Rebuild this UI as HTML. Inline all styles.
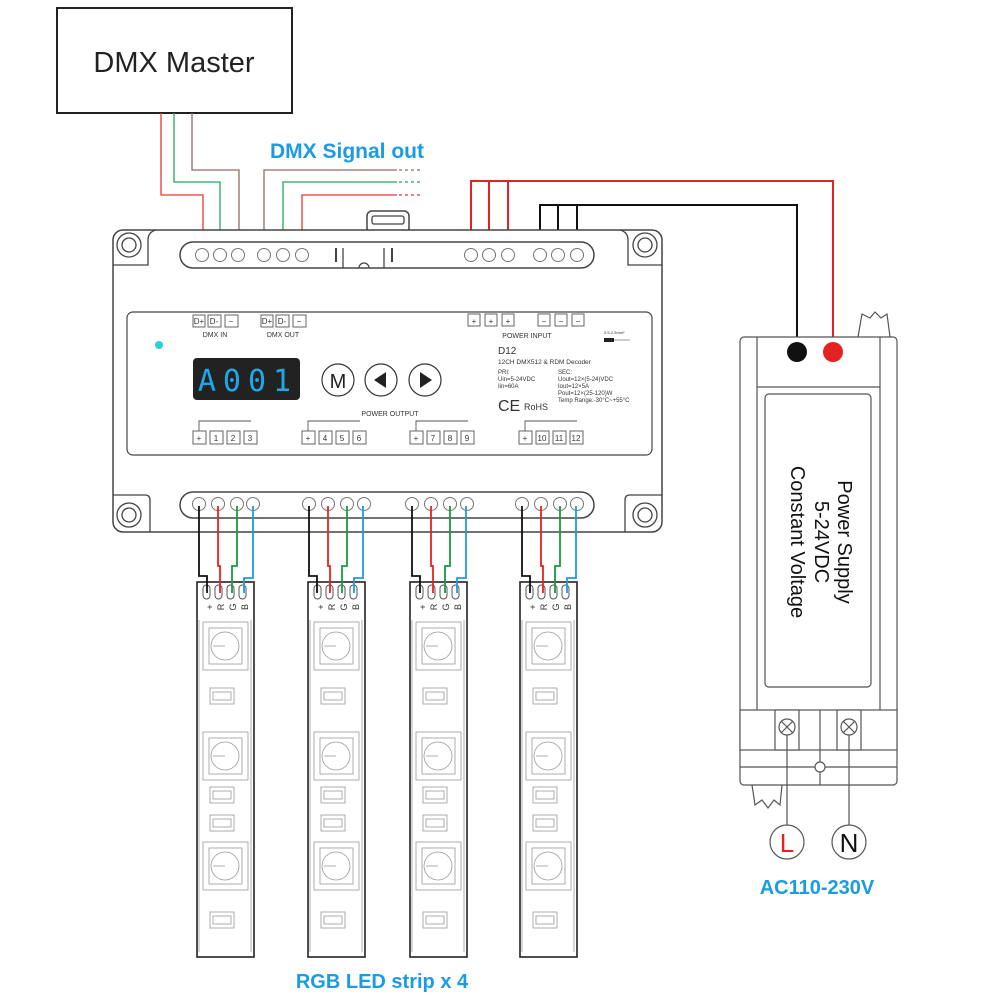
<!DOCTYPE html>
<html><head><meta charset="utf-8"><style>body{margin:0;background:#fff}svg{display:block}</style></head><body>
<svg width="1000" height="1000" viewBox="0 0 1000 1000" xmlns="http://www.w3.org/2000/svg" font-family="Liberation Sans, sans-serif">
<defs>
<g id="strip">
<rect x="0" y="0" width="57" height="375" fill="#fff" stroke="#222" stroke-width="1.6"/>
<g fill="#fff" stroke="#555" stroke-width="1">
<rect x="6" y="3" width="7" height="14" rx="3.5"/><rect x="18" y="3" width="7" height="14" rx="3.5"/><rect x="30" y="3" width="7" height="14" rx="3.5"/><rect x="42" y="3" width="7" height="14" rx="3.5"/>
</g>
<g font-size="9" fill="#333" text-anchor="middle">
<text transform="translate(13,25) rotate(-90)" dy="3">+</text>
<text transform="translate(24,25) rotate(-90)" dy="3">R</text>
<text transform="translate(36,25) rotate(-90)" dy="3">G</text>
<text transform="translate(48,25) rotate(-90)" dy="3">B</text>
</g>
<g fill="none" stroke="#999" stroke-width="0.8">
<line x1="2" y1="38" x2="2" y2="370"/><line x1="54" y1="38" x2="54" y2="370"/>
<rect x="6" y="40" width="45" height="48"/><rect x="12" y="46" width="33" height="36"/><circle cx="28" cy="64" r="14"/>
<rect x="13" y="106" width="24" height="16"/><rect x="16" y="110" width="18" height="8"/>
<rect x="6" y="150" width="45" height="48"/><rect x="12" y="156" width="33" height="36"/><circle cx="28" cy="174" r="14"/>
<rect x="13" y="205" width="24" height="16"/><rect x="16" y="209" width="18" height="8"/>
<rect x="13" y="233" width="24" height="16"/><rect x="16" y="237" width="18" height="8"/>
<rect x="6" y="260" width="45" height="48"/><rect x="12" y="266" width="33" height="36"/><circle cx="28" cy="284" r="14"/>
<rect x="13" y="330" width="24" height="16"/><rect x="16" y="334" width="18" height="8"/>
<line x1="28" y1="64" x2="16" y2="64"/><line x1="28" y1="174" x2="16" y2="174"/><line x1="28" y1="284" x2="16" y2="284"/>
</g>
</g>
</defs>

<rect x="57" y="8" width="235" height="105" fill="#fff" stroke="#222" stroke-width="2"/>
<text x="174" y="72" font-size="29" text-anchor="middle" fill="#222">DMX Master</text>
<text x="347" y="158" font-size="21" font-weight="bold" text-anchor="middle" fill="#1a9be6">DMX Signal out</text>

<g fill="none" stroke-width="1.3">
<polyline points="161,113 161,195 203,195 203,249" stroke="#e53935"/>
<polyline points="174,113 174,182 220,182 220,249" stroke="#26a65b"/>
<polyline points="192,113 192,170 239,170 239,249" stroke="#8d6e63"/>
<polyline points="264,249 264,170 397,170" stroke="#8d6e63"/>
<polyline points="283,249 283,182 397,182" stroke="#26a65b"/>
<polyline points="302,249 302,195 397,195" stroke="#e53935"/>
<line x1="399" y1="170" x2="420" y2="170" stroke="#8d6e63" stroke-dasharray="3,3"/>
<line x1="399" y1="182" x2="420" y2="182" stroke="#26a65b" stroke-dasharray="3,3"/>
<line x1="399" y1="195" x2="420" y2="195" stroke="#e53935" stroke-dasharray="3,3"/>
</g>
<g fill="none" stroke-width="2">
<polyline points="471,249 471,181 833,181 833,350" stroke="#e52222"/>
<line x1="489" y1="181" x2="489" y2="249" stroke="#e52222"/>
<line x1="508" y1="181" x2="508" y2="249" stroke="#e52222"/>
<polyline points="540,249 540,205 797,205 797,350" stroke="#111"/>
<line x1="558" y1="205" x2="558" y2="249" stroke="#111"/>
<line x1="577" y1="205" x2="577" y2="249" stroke="#111"/>
</g>

<g fill="#fff" stroke="#444" stroke-width="1.5">
<rect x="367" y="211" width="42" height="22" rx="5"/>
<rect x="113" y="230" width="549" height="302" rx="10"/>
<rect x="180" y="242" width="414" height="26" rx="13"/>
<rect x="180" y="492" width="414" height="26" rx="13"/>
<rect x="127" y="312" width="525" height="143" rx="6" stroke-width="1.2"/>
</g>
<g fill="none" stroke="#444" stroke-width="1.3">
<path d="M113,265 L148,265 L148,240 Q148,232 156,230"/>
<path d="M662,265 L628,265 L628,240 Q628,232 620,230"/>
<path d="M113,495 L145,495 Q150,495 150,500 L150,532"/>
<path d="M662,495 L630,495 Q625,495 625,500 L625,532"/>
<circle cx="129" cy="245" r="12"/><circle cx="129" cy="245" r="7"/>
<circle cx="645" cy="245" r="12"/><circle cx="645" cy="245" r="7"/>
<circle cx="129" cy="515" r="12"/><circle cx="129" cy="515" r="7"/>
<circle cx="645" cy="515" r="12"/><circle cx="645" cy="515" r="7"/>
<rect x="372" y="216" width="32" height="8" rx="2"/>
<line x1="336" y1="248" x2="336" y2="262" stroke-width="2"/><line x1="343" y1="248" x2="343" y2="268"/>
<line x1="384" y1="248" x2="384" y2="268"/><line x1="392" y1="248" x2="392" y2="262" stroke-width="2"/>
<path d="M359,268 A5,5 0 0 1 369,268"/>
</g>
<g fill="#fff" stroke="#777" stroke-width="1">
<circle cx="202" cy="255" r="6.5"/><circle cx="220" cy="255" r="6.5"/><circle cx="238" cy="255" r="6.5"/><circle cx="264" cy="255" r="6.5"/><circle cx="283" cy="255" r="6.5"/><circle cx="302" cy="255" r="6.5"/>
<circle cx="471" cy="255" r="6.5"/><circle cx="489" cy="255" r="6.5"/><circle cx="508" cy="255" r="6.5"/><circle cx="540" cy="255" r="6.5"/><circle cx="558" cy="255" r="6.5"/><circle cx="577" cy="255" r="6.5"/>
<circle cx="199" cy="504" r="6.5"/><circle cx="218" cy="504" r="6.5"/><circle cx="237" cy="504" r="6.5"/><circle cx="253" cy="504" r="6.5"/>
<circle cx="309" cy="504" r="6.5"/><circle cx="328" cy="504" r="6.5"/><circle cx="347" cy="504" r="6.5"/><circle cx="364" cy="504" r="6.5"/>
<circle cx="412" cy="504" r="6.5"/><circle cx="431" cy="504" r="6.5"/><circle cx="450" cy="504" r="6.5"/><circle cx="467" cy="504" r="6.5"/>
<circle cx="522" cy="504" r="6.5"/><circle cx="541" cy="504" r="6.5"/><circle cx="560" cy="504" r="6.5"/><circle cx="577" cy="504" r="6.5"/>
</g>

<circle cx="159" cy="345" r="4" fill="#2ad0d8"/>
<g fill="#fff" stroke="#555" stroke-width="0.9">
<rect x="193" y="315" width="12" height="12"/><rect x="208" y="315" width="13" height="12"/><rect x="225" y="315" width="13" height="12"/>
<rect x="261" y="315" width="12" height="12"/><rect x="276" y="315" width="13" height="12"/><rect x="293" y="315" width="13" height="12"/>
<rect x="468" y="314" width="12" height="12"/><rect x="485" y="314" width="12" height="12"/><rect x="502" y="314" width="12" height="12"/>
<rect x="538" y="314" width="12" height="12"/><rect x="555" y="314" width="12" height="12"/><rect x="572" y="314" width="12" height="12"/>
</g>
<g font-size="8" fill="#333" text-anchor="middle">
<text x="199" y="324">D+</text><text x="214" y="324">D-</text><text x="231" y="324">−</text>
<text x="267" y="324">D+</text><text x="282" y="324">D-</text><text x="299" y="324">−</text>
<text x="474" y="324">+</text><text x="491" y="324">+</text><text x="508" y="324">+</text>
<text x="544" y="324">−</text><text x="561" y="324">−</text><text x="578" y="324">−</text>
<text x="215" y="337" font-size="7">DMX IN</text><text x="283" y="337" font-size="7">DMX OUT</text>
<text x="527" y="338" font-size="7">POWER INPUT</text>
<text x="390" y="416" font-size="7">POWER OUTPUT</text>
</g>
<rect x="193" y="358" width="107" height="42" rx="4" fill="#222"/>
<text x="248" y="391" font-size="30" text-anchor="middle" fill="#1fa8e8" font-family="DejaVu Sans Mono, monospace" letter-spacing="7">A001</text>
<g fill="#fff" stroke="#333" stroke-width="1.2">
<circle cx="338" cy="380" r="16"/><circle cx="381" cy="380" r="16"/><circle cx="425" cy="380" r="16"/>
</g>
<text x="338" y="388" font-size="20" text-anchor="middle" fill="#222">M</text>
<path d="M374,380 L386,372 L386,388 Z" fill="#222"/><path d="M432,380 L420,372 L420,388 Z" fill="#222"/>
<g fill="#333">
<text x="498" y="354" font-size="10">D12</text>
<text x="498" y="364" font-size="6.5">12CH DMX512 &amp; RDM Decoder</text>
<text x="498" y="374" font-size="6">PRI:</text><text x="498" y="381" font-size="6">Uin=5-24VDC</text><text x="498" y="388" font-size="6">Iin=60A</text>
<text x="558" y="374" font-size="6">SEC:</text><text x="558" y="381" font-size="6">Uout=12×(5-24)VDC</text><text x="558" y="388" font-size="6">Iout=12×5A</text><text x="558" y="395" font-size="6">Pout=12×(25-120)W</text><text x="558" y="402" font-size="6">Temp Range:-30°C~+55°C</text>
<text x="498" y="411" font-size="16">CE</text><text x="524" y="410" font-size="9">RoHS</text>
<text x="604" y="334" font-size="4">0.5-2.5mm²</text>
</g>
<rect x="604" y="338" width="10" height="4" fill="#222"/><line x1="614" y1="340" x2="630" y2="340" stroke="#555" stroke-width="0.6"/>
<g fill="#fff" stroke="#555" stroke-width="0.9">
<rect x="193" y="431" width="13" height="13"/><rect x="210" y="431" width="13" height="13"/><rect x="227" y="431" width="13" height="13"/><rect x="244" y="431" width="13" height="13"/>
<rect x="302" y="431" width="13" height="13"/><rect x="319" y="431" width="13" height="13"/><rect x="336" y="431" width="13" height="13"/><rect x="353" y="431" width="13" height="13"/>
<rect x="410" y="431" width="13" height="13"/><rect x="427" y="431" width="13" height="13"/><rect x="444" y="431" width="13" height="13"/><rect x="461" y="431" width="13" height="13"/>
<rect x="519" y="431" width="13" height="13"/><rect x="536" y="431" width="13" height="13"/><rect x="553" y="431" width="13" height="13"/><rect x="570" y="431" width="13" height="13"/>
<polyline points="199,431 199,421 251,421" fill="none"/><polyline points="308,431 308,421 360,421" fill="none"/><polyline points="416,431 416,421 468,421" fill="none"/><polyline points="525,431 525,421 577,421" fill="none"/>
</g>
<g font-size="8" fill="#333" text-anchor="middle">
<text x="199" y="441">+</text><text x="216" y="441">1</text><text x="233" y="441">2</text><text x="250" y="441">3</text>
<text x="308" y="441">+</text><text x="325" y="441">4</text><text x="342" y="441">5</text><text x="359" y="441">6</text>
<text x="416" y="441">+</text><text x="433" y="441">7</text><text x="450" y="441">8</text><text x="467" y="441">9</text>
<text x="525" y="441">+</text><text x="542" y="441">10</text><text x="559" y="441">11</text><text x="576" y="441">12</text>
</g>

<use href="#strip" x="197" y="582"/>
<use href="#strip" x="308" y="582"/>
<use href="#strip" x="410" y="582"/>
<use href="#strip" x="520" y="582"/>
<g fill="none" stroke-width="1.8">
<g id="w1">
<polyline points="199,506 199,576 207,576 207,593" stroke="#111"/>
<polyline points="218,506 218,566 220,566 220,593" stroke="#e52222"/>
<polyline points="237,506 237,566 232,566 232,593" stroke="#1a9a3e"/>
<polyline points="253,506 253,578 244,578 244,593" stroke="#1a9be6"/>
</g>
<use href="#w1" x="110"/><use href="#w1" x="213"/><use href="#w1" x="323"/>
</g>
<text x="382" y="988" font-size="20" font-weight="bold" text-anchor="middle" fill="#1a9be6">RGB LED strip x 4</text>

<g fill="#fff" stroke="#555" stroke-width="1.2">
<path d="M858,337 L862,314 L870,318 L875,312 L881,318 L887,314 L890,337"/>
<path d="M752,785 L755,805 L762,800 L768,808 L774,800 L780,805 L782,785"/>
<rect x="740" y="337" width="157" height="448" rx="4"/>
<line x1="757" y1="337" x2="757" y2="710"/><line x1="880" y1="337" x2="880" y2="710"/>
<line x1="757" y1="387" x2="880" y2="387"/>
<rect x="765" y="394" width="106" height="293" rx="4"/>
<rect x="740" y="710" width="157" height="40"/>
<line x1="740" y1="767" x2="897" y2="767"/>
<line x1="820" y1="710" x2="820" y2="785"/>
<rect x="775" y="710" width="24" height="40"/><rect x="837" y="710" width="24" height="40"/>
<circle cx="820" cy="767" r="5"/>
</g>
<circle cx="797" cy="352" r="10" fill="#111"/><circle cx="833" cy="352" r="10" fill="#e52222"/>
<g fill="#fff" stroke="#555" stroke-width="1.2">
<circle cx="787" cy="727" r="8"/><circle cx="849" cy="727" r="8"/>
<path d="M781,721 L793,733 M793,721 L781,733 M843,721 L855,733 M855,721 L843,733"/>
<line x1="787" y1="735" x2="787" y2="825"/><line x1="849" y1="735" x2="849" y2="825"/>
<circle cx="787" cy="842" r="17"/><circle cx="849" cy="842" r="17"/>
</g>
<text x="787" y="852" font-size="26" text-anchor="middle" fill="#e52222">L</text>
<text x="849" y="852" font-size="26" text-anchor="middle" fill="#111">N</text>
<text x="817" y="894" font-size="20" font-weight="bold" text-anchor="middle" fill="#1a9be6">AC110-230V</text>
<g font-size="20" fill="#111" text-anchor="middle">
<text transform="translate(838,542) rotate(90)">Power Supply</text>
<text transform="translate(815,542) rotate(90)">5-24VDC</text>
<text transform="translate(791,542) rotate(90)">Constant Voltage</text>
</g>
</svg>
</body></html>
